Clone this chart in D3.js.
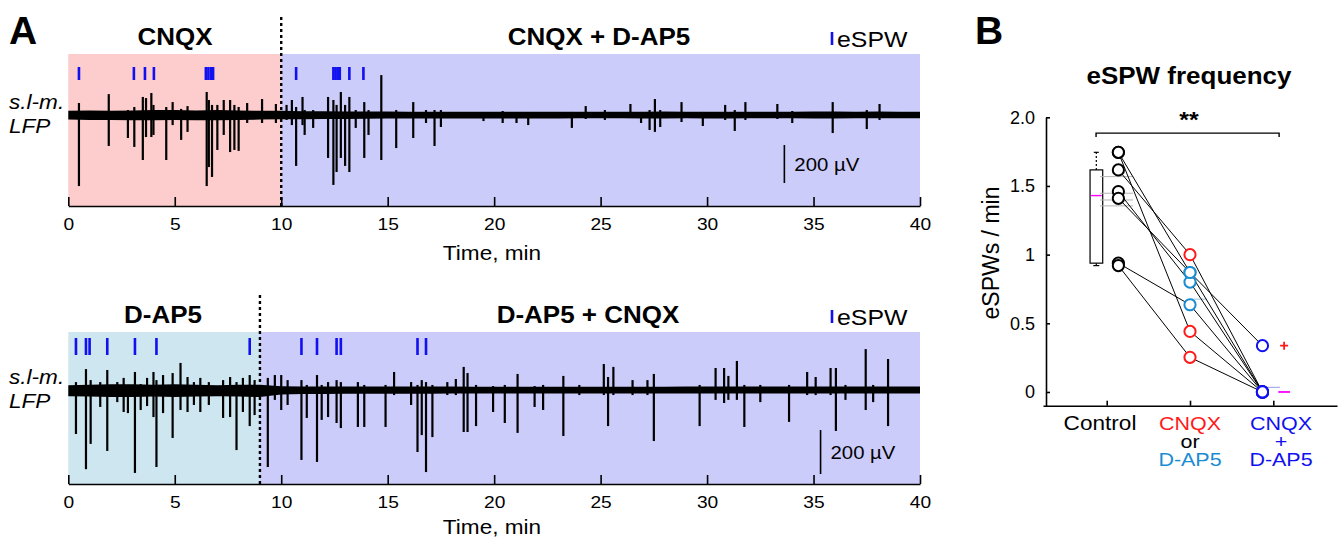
<!DOCTYPE html>
<html>
<head>
<meta charset="utf-8">
<script src="https://cdn.jsdelivr.net/npm/d3@7"></script>
<style>
  body { margin: 0; background: #fff; }
  text { font-family: "Liberation Sans", Arial, sans-serif; fill: #000; }
</style>
</head>
<body>
<script>
// ---- panel A data ----
var ticksA = [0, 5, 10, 15, 20, 25, 30, 35, 40];

// drug periods (min)
var topPeriods = [[0, 10, "CNQX"], [10, 40, "CNQX + D-AP5"]];
var botPeriods = [[0, 9, "D-AP5"], [9, 40, "D-AP5 + CNQX"]];

// eSPW event times (min)
var topEvents = [0.5, 3.08, 3.6, 4.02, 6.46, 6.58, 6.7, 6.8, 10.7, 12.45, 12.55, 12.65, 12.75, 13.2, 13.86];
var botEvents = [0.36, 0.83, 1.0, 1.83, 3.13, 4.14, 8.52, 10.95, 11.68, 12.6, 12.8, 16.4, 16.8];

// LFP noise envelope, uV, one value per minute (0..40)
var topEnvUp = [22, 24, 22, 24, 26, 26, 24, 26, 24, 22, 22, 20, 20, 19, 19, 18, 17, 17, 17, 17, 17, 17, 17, 17, 17, 17, 17, 17, 18, 17, 17, 17, 17, 17, 17, 18, 18, 17, 18, 17, 17];
var topEnvDown = [24, 26, 26, 28, 28, 26, 28, 28, 26, 24, 22, 22, 21, 21, 20, 19, 18, 18, 18, 18, 18, 18, 18, 18, 17, 17, 17, 18, 18, 17, 18, 18, 17, 17, 17, 18, 18, 17, 17, 17, 17];
var botEnvUp = [22, 24, 26, 26, 24, 26, 24, 22, 24, 24, 17, 16, 16, 16, 16, 16, 16, 16, 16, 15, 15, 15, 15, 15, 15, 15, 15, 15, 15, 16, 16, 16, 16, 16, 16, 16, 16, 16, 16, 16, 16];
var botEnvDown = [28, 30, 32, 32, 30, 32, 30, 28, 30, 32, 20, 18, 18, 17, 17, 17, 17, 17, 16, 16, 16, 16, 16, 16, 16, 16, 16, 16, 16, 16, 16, 16, 16, 16, 16, 16, 16, 16, 16, 16, 16];

// LFP deflections: [time min, up uV, down uV]
var topSpikes = [
  [0.5, 63, 374], [1.9, 110, 163], [2.8, 26, 121], [3.1, 42, 168], [3.5, 95, 237], [3.65, 89, 116],
  [3.9, 116, 116], [4.0, 53, 105], [4.6, 42, 237], [4.9, 68, 53], [5.3, 32, 131], [5.6, 47, 89],
  [6.5, 121, 374], [6.6, 79, 274], [6.75, 53, 326], [7.0, 53, 184], [7.3, 79, 105], [7.6, 79, 195],
  [7.8, 53, 184], [8.0, 42, 189], [8.4, 63, 42], [9.1, 84, 42], [9.75, 58, 42], [10.25, 53, 26],
  [10.5, 79, 53], [10.7, 42, 268], [11.0, 95, 53], [11.1, 26, 105], [11.5, 26, 68], [12.2, 95, 226],
  [12.45, 79, 368], [12.6, 53, 300], [12.8, 121, 226], [13.0, 53, 268], [13.2, 95, 300], [13.5, 26, 68],
  [13.9, 68, 226], [14.1, 26, 105], [14.7, 210, 237], [15.4, 26, 174], [16.2, 68, 121], [16.8, 26, 42],
  [17.2, 26, 163], [17.5, 26, 63], [19.5, 16, 32], [20.4, 21, 42], [21.05, 16, 42], [21.6, 16, 53],
  [23.65, 16, 68], [24.3, 47, 21], [25.2, 26, 26], [26.4, 58, 16], [26.9, 16, 42], [27.3, 26, 79],
  [27.55, 84, 89], [27.8, 26, 63], [28.8, 68, 37], [29.8, 16, 58], [30.85, 53, 26], [31.3, 26, 84],
  [31.8, 68, 26], [33.3, 58, 21], [34.0, 21, 42], [35.9, 68, 95], [37.5, 26, 74], [38.1, 58, 26]
];
var botSpikes = [
  [0.36, 36, 200], [0.83, 95, 360], [1.05, 45, 245], [1.5, 36, 77], [1.83, 91, 277], [2.3, 36, 55],
  [2.6, 55, 100], [2.8, 23, 105], [3.13, 82, 377], [3.4, 27, 91], [3.7, 55, 73], [4.0, 82, 123],
  [4.14, 45, 350], [4.45, 68, 105], [4.9, 77, 218], [5.27, 123, 91], [5.6, 59, 100], [5.9, 36, 68],
  [6.2, 55, 100], [6.6, 36, 68], [7.27, 45, 127], [7.6, 59, 123], [7.9, 36, 273], [8.2, 55, 100],
  [8.52, 68, 164], [8.75, 45, 114], [9.37, 55, 350], [9.7, 68, 45], [10.0, 68, 91], [10.3, 45, 68],
  [10.95, 45, 318], [11.2, 23, 127], [11.68, 68, 327], [11.9, 23, 136], [12.2, 36, 123], [12.6, 45, 150],
  [12.8, 36, 173], [13.6, 36, 168], [13.9, 23, 168], [14.9, 23, 168], [15.3, 82, 23], [16.1, 36, 68],
  [16.4, 23, 282], [16.6, 45, 205], [16.8, 36, 373], [17.1, 23, 214], [17.8, 36, 23], [18.2, 50, 23],
  [18.57, 105, 191], [18.75, 77, 191], [19.15, 23, 164], [19.95, 18, 100], [20.5, 23, 150], [21.1, 73, 195],
  [21.9, 18, 77], [22.3, 23, 91], [23.25, 64, 209], [24.0, 23, 23], [25.15, 118, 23], [25.35, 59, 164],
  [25.6, 105, 23], [26.5, 45, 23], [27.2, 45, 23], [27.5, 73, 232], [29.65, 23, 164], [30.4, 100, 45],
  [30.8, 100, 59], [31.0, 64, 45], [31.4, 132, 45], [31.75, 23, 168], [32.5, 23, 55], [33.85, 23, 145],
  [34.7, 82, 23], [35.1, 59, 23], [35.8, 100, 23], [36.05, 100, 186], [36.5, 23, 45], [37.45, 186, 91],
  [37.8, 23, 55], [38.5, 141, 164]
];

// ---- panel B data (eSPWs / min), one entry per slice ----
var controlVals = [1.745, 1.745, 1.617, 1.459, 1.41, 0.938, 0.92];
var drugVals = [0.441, 0.87, 1.0, 0.80, 0.87, 0.635, 0.252];
var drugType = ["CNQX", "D-AP5", "CNQX", "D-AP5", "D-AP5", "D-AP5", "CNQX"];
var bothVals = [0, 0, 0, 0, 0.337, 0, 0];
var boxStats = {lo: 0.92, q1: 0.938, med: 1.43, q3: 1.617, hi: 1.745};
var controlGrey = [1.568, 1.447, 1.398, 1.355];
var yTicksB = [0, 0.5, 1, 1.5, 2];

var SX = 1.13;  // source figure is horizontally stretched
var bgCol = {"CNQX": "#fdcccc", "D-AP5": "#cde6f0", "mix": "#ccccfb"};
var blue = "#1010f0", red = "#ff1a1a", lightBlue = "#1a8cd2", magenta = "#ff00ff";

var svg = d3.select("body").append("svg")
    .attr("width", 1340)
    .attr("height", 541);

function label(g, x, y, s, size, o) {
  o = o || {};
  return g.append("text")
      .attr("transform", "translate(" + x + "," + y + ") scale(" + (o.sx || SX) + ",1)")
      .attr("text-anchor", o.anchor || "middle")
      .style("font-size", size + "px")
      .style("font-weight", o.bold ? "bold" : "normal")
      .style("font-style", o.italic ? "italic" : "normal")
      .style("fill", o.fill || "#000")
      .text(s);
}

var x = d3.scaleLinear().domain([0, 40]).range([68.3, 920]);

function drawPanel(cfg) {
  var g = svg.append("g");
  var y = d3.scaleLinear().domain([0, -200]).range([cfg.base, cfg.base + cfg.px200]);

  // shaded drug periods
  g.selectAll("rect.bg").data(cfg.periods).enter().append("rect")
      .attr("x", function(d) { return x(d[0]); })
      .attr("width", function(d) { return x(d[1]) - x(d[0]); })
      .attr("y", cfg.bgTop)
      .attr("height", cfg.axisY - cfg.bgTop)
      .attr("fill", function(d, i) { return i == 0 ? bgCol[d[2]] : bgCol.mix; });

  // period titles
  cfg.periods.forEach(function(d, i) {
    label(g, cfg.titleX[i], cfg.titleY, d[2], 23, {bold: true});
  });

  // noise band of the LFP
  var env = d3.range(41).map(function(m) { return {t: m, up: cfg.envUp[m], dn: cfg.envDown[m]}; });
  g.append("path")
      .attr("fill", "#000")
      .attr("d", d3.area()
        .x(function(d) { return x(d.t); })
        .y0(function(d) { return y(-d.dn); })
        .y1(function(d) { return y(d.up); })(env));

  // deflections
  g.selectAll("line.sp").data(cfg.spikes).enter().append("line")
      .attr("x1", function(d) { return x(d[0]); })
      .attr("x2", function(d) { return x(d[0]); })
      .attr("y1", function(d) { return y(d[1]); })
      .attr("y2", function(d) { return y(-d[2]); })
      .attr("stroke", "#000")
      .attr("stroke-width", 2.2);

  // eSPW marks
  g.selectAll("line.ev").data(cfg.events).enter().append("line")
      .attr("x1", function(d) { return x(d); })
      .attr("x2", function(d) { return x(d); })
      .attr("y1", cfg.evY[0])
      .attr("y2", cfg.evY[1])
      .attr("stroke", blue)
      .attr("stroke-width", 2.6);

  // legend
  g.append("line")
      .attr("x1", 832).attr("x2", 832)
      .attr("y1", cfg.legY - 15).attr("y2", cfg.legY - 2)
      .attr("stroke", blue).attr("stroke-width", 2.6);
  label(g, 837, cfg.legY, "eSPW", 22, {anchor: "start"});

  // drug switch
  g.append("line")
      .attr("x1", x(cfg.periods[1][0])).attr("x2", x(cfg.periods[1][0]))
      .attr("y1", cfg.dotTop).attr("y2", cfg.axisY)
      .attr("stroke", "#000").attr("stroke-width", 2.4)
      .attr("stroke-dasharray", "3,3");

  // scale bar
  g.append("line")
      .attr("x1", x(cfg.bar[0])).attr("x2", x(cfg.bar[0]))
      .attr("y1", y(cfg.bar[1])).attr("y2", y(cfg.bar[1] - 200))
      .attr("stroke", "#000").attr("stroke-width", 1.6);
  label(g, x(cfg.bar[0]) + 10, (y(cfg.bar[1]) + y(cfg.bar[1] - 200)) / 2 + 7, "200 \u00b5V", 18, {anchor: "start"});

  // axis
  var ax = g.append("g")
      .attr("transform", "translate(0," + cfg.axisY + ")")
      .call(d3.axisBottom(x).tickValues(ticksA).tickSizeInner(-9).tickSizeOuter(0).tickPadding(12));
  ax.attr("font-family", null);
  ax.selectAll("path, line").attr("stroke", "#000").attr("stroke-width", 1.6);
  ax.selectAll("text")
      .style("font-size", "17px")
      .attr("transform", "scale(" + SX + ",1)");
  label(g, 492, cfg.timeY, "Time, min", 20);

  // trace label
  label(g, 9, cfg.base - 6, "s.l-m.", 20, {anchor: "start", italic: true});
  label(g, 9, cfg.base + 18, "LFP", 20, {anchor: "start", italic: true});
}

drawPanel({
  periods: topPeriods, events: topEvents, spikes: topSpikes,
  envUp: topEnvUp, envDown: topEnvDown,
  base: 115, px200: 38, bgTop: 54, axisY: 206, dotTop: 17, timeY: 260,
  evY: [67, 80], legY: 47, titleX: [175, 599], titleY: 45, bar: [33.63, -158]
});
drawPanel({
  periods: botPeriods, events: botEvents, spikes: botSpikes,
  envUp: botEnvUp, envDown: botEnvDown,
  base: 390, px200: 44, bgTop: 332, axisY: 484, dotTop: 295, timeY: 534,
  evY: [338, 355], legY: 325, titleX: [163, 588], titleY: 323, bar: [35.33, -182]
});

label(svg, 9, 44, "A", 39, {anchor: "start", bold: true, sx: 1});
label(svg, 975, 44, "B", 39, {anchor: "start", bold: true, sx: 1});

// ---- panel B ----
var gB = svg.append("g");
var xB = d3.scaleLinear().domain([0.235, 3.765]).range([1043, 1337]);
var yB = d3.scaleLinear().domain([-0.1, 2]).range([405.7, 117.3]);

label(gB, 1189, 84, "eSPW frequency", 23, {bold: true});

var axY = gB.append("g").attr("transform", "translate(1046,0)")
    .call(d3.axisLeft(yB).tickValues(yTicksB).tickSizeInner(-4).tickSizeOuter(0).tickPadding(11)
      .tickFormat(function(d) { return d == 2 ? "2.0" : String(d); }));
var axX = gB.append("g").attr("transform", "translate(0,405.7)")
    .call(d3.axisBottom(xB).tickValues([1, 2, 3]).tickSizeInner(-5).tickSizeOuter(0).tickFormat(""));
axY.attr("font-family", null);
gB.selectAll("path.domain, .tick line").attr("stroke", "#000").attr("stroke-width", 1.6);
axY.selectAll(".tick text").style("font-size", "18px");

gB.append("text")
    .attr("transform", "translate(999,253) rotate(-90)")
    .attr("text-anchor", "middle")
    .style("font-size", "23px")
    .text("eSPWs / min");

// category labels
label(gB, 1100, 430, "Control", 20);
label(gB, 1190, 430, "CNQX", 19, {fill: red});
label(gB, 1190, 448, "or", 19);
label(gB, 1190, 466, "D-AP5", 19, {fill: lightBlue});
label(gB, 1281, 430, "CNQX", 19, {fill: blue});
label(gB, 1281, 448, "+", 19, {fill: blue});
label(gB, 1281, 466, "D-AP5", 19, {fill: blue});

// significance bracket
gB.append("path")
    .attr("fill", "none").attr("stroke", "#000").attr("stroke-width", 1.4)
    .attr("d", d3.line()([[xB(0.872), yB(1.856)], [xB(0.872), yB(1.885)], [xB(3.07), yB(1.885)], [xB(3.07), yB(1.856)]]));
label(gB, 1189, 127, "**", 22, {bold: true});

// box plot of control
var bx0 = xB(0.8), bx1 = xB(0.952), bxc = xB(0.875);
gB.append("line").attr("x1", bxc).attr("x2", bxc).attr("y1", yB(boxStats.q3)).attr("y2", yB(boxStats.hi))
    .attr("stroke", "#000").attr("stroke-width", 1.2).attr("stroke-dasharray", "2,2");
gB.append("line").attr("x1", bxc - 2.5).attr("x2", bxc + 2.5).attr("y1", yB(boxStats.hi)).attr("y2", yB(boxStats.hi))
    .attr("stroke", "#000").attr("stroke-width", 1.2);
gB.append("line").attr("x1", bxc).attr("x2", bxc).attr("y1", yB(boxStats.q1)).attr("y2", yB(boxStats.lo))
    .attr("stroke", "#000").attr("stroke-width", 1.2);
gB.append("line").attr("x1", bxc - 3).attr("x2", bxc + 3).attr("y1", yB(boxStats.lo)).attr("y2", yB(boxStats.lo))
    .attr("stroke", "#000").attr("stroke-width", 1.2);
gB.append("rect")
    .attr("x", bx0).attr("width", bx1 - bx0)
    .attr("y", yB(boxStats.q3)).attr("height", yB(boxStats.q1) - yB(boxStats.q3))
    .attr("fill", "#fff").attr("stroke", "#000").attr("stroke-width", 1.2);
gB.append("line").attr("x1", bx0 + 1).attr("x2", bx1 - 1).attr("y1", yB(boxStats.med)).attr("y2", yB(boxStats.med))
    .attr("stroke", magenta).attr("stroke-width", 1.4);

// faint reference lines
gB.selectAll("line.cg").data(controlGrey).enter().append("line")
    .attr("x1", xB(0.92)).attr("x2", xB(1.317))
    .attr("y1", function(d) { return yB(d); }).attr("y2", function(d) { return yB(d); })
    .attr("stroke", "#b4b4b4").attr("stroke-width", 1);
gB.append("line").attr("x1", xB(2)).attr("x2", xB(2.2)).attr("y1", yB(0.676)).attr("y2", yB(0.676))
    .attr("stroke", "#9cc4e0").attr("stroke-width", 1);
gB.append("line").attr("x1", xB(2.87)).attr("x2", xB(3.08)).attr("y1", yB(0.034)).attr("y2", yB(0.034))
    .attr("stroke", "#9a9ae0").attr("stroke-width", 1);

// paired lines
var slices = controlVals.map(function(c, i) {
  return {c: c, d: drugVals[i], b: bothVals[i], type: drugType[i]};
});
gB.selectAll("path.pair").data(slices).enter().append("path")
    .attr("fill", "none").attr("stroke", "#000").attr("stroke-width", 1)
    .attr("d", function(s) { return d3.line()([[xB(1.14), yB(s.c)], [xB(2), yB(s.d)], [xB(2.87), yB(s.b)]]); });

function dots(vals, xpos, colorFn) {
  gB.selectAll(null).data(vals).enter().append("circle")
      .attr("cx", xB(xpos))
      .attr("cy", function(d) { return yB(d); })
      .attr("r", 5.6)
      .attr("fill", "#fff")
      .attr("stroke", colorFn)
      .attr("stroke-width", 2);
}
dots(controlVals, 1.14, "#000");
dots(drugVals, 2, function(d, i) { return drugType[i] == "CNQX" ? red : lightBlue; });
dots(bothVals, 2.87, blue);

// outlier + and median dash for the third group
gB.append("path")
    .attr("stroke", red).attr("stroke-width", 1.8)
    .attr("d", "M" + (xB(3.13) - 4) + "," + yB(0.337) + "h8M" + xB(3.13) + "," + (yB(0.337) - 4) + "v8");
gB.append("line").attr("x1", xB(3.06)).attr("x2", xB(3.2)).attr("y1", yB(0)).attr("y2", yB(0))
    .attr("stroke", magenta).attr("stroke-width", 1.8);
</script>
</body>
</html>
